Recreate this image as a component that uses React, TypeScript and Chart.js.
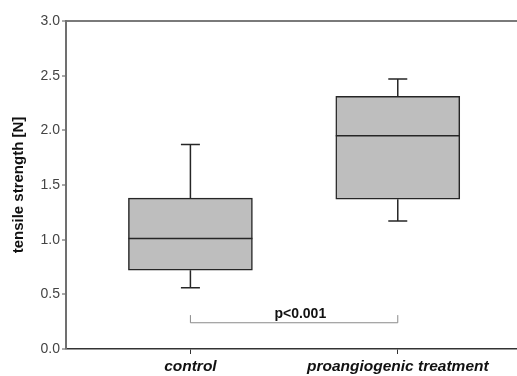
import React, { useEffect, useRef } from 'react';
import { Chart, registerables } from 'chart.js';

Chart.register(...registerables);

// ---- data ----
const categories = ['control', 'proangiogenic treatment'];
const whiskerMin = [0.56, 1.17];
const quartile1 = [0.72, 1.37];
const medians = [1.01, 1.95];
const quartile3 = [1.38, 2.31];
const whiskerMax = [1.87, 2.47];

const yMin = 0;
const yMax = 3;
const yStep = 0.5;
const yTitle = 'tensile strength [N]';

const pLabel = 'p<0.001';
const bracketFrom = 0; // category index
const bracketTo = 1;
const bracketLevel = 0.24;
const bracketTickTop = 0.31;
const pLabelX = 1.53;
const pLabelY = 0.322;

const FONT = "'Liberation Sans', Arial, Helvetica, sans-serif";

const boxPlugin = {
  id: 'boxWhiskers',
  afterDatasetsDraw(chart: any) {
    const xs = chart.scales.x;
    const ys = chart.scales.y;
    const ctx = chart.ctx;
    ctx.save();
    ctx.strokeStyle = '#262626';
    ctx.lineWidth = 1.5;
    const halfBox = 62;
    const halfCap = 9.5;
    categories.forEach((_, i) => {
      const x = xs.getPixelForValue(i + 1);
      const yMed = ys.getPixelForValue(medians[i]);
      const yQ1 = ys.getPixelForValue(quartile1[i]);
      const yQ3 = ys.getPixelForValue(quartile3[i]);
      const yLo = ys.getPixelForValue(whiskerMin[i]);
      const yHi = ys.getPixelForValue(whiskerMax[i]);
      ctx.beginPath();
      ctx.moveTo(x - halfBox, yMed);
      ctx.lineTo(x + halfBox, yMed);
      // upper whisker
      ctx.moveTo(x, yQ3);
      ctx.lineTo(x, yHi);
      ctx.moveTo(x - halfCap, yHi);
      ctx.lineTo(x + halfCap, yHi);
      // lower whisker
      ctx.moveTo(x, yQ1);
      ctx.lineTo(x, yLo);
      ctx.moveTo(x - halfCap, yLo);
      ctx.lineTo(x + halfCap, yLo);
      ctx.stroke();
    });

    // significance bracket
    const xa = xs.getPixelForValue(bracketFrom + 1);
    const xb = xs.getPixelForValue(bracketTo + 1);
    const yb = ys.getPixelForValue(bracketLevel);
    const yt = ys.getPixelForValue(bracketTickTop);
    ctx.strokeStyle = '#8a8a8a';
    ctx.lineWidth = 1;
    ctx.beginPath();
    ctx.moveTo(xa, yt);
    ctx.lineTo(xa, yb);
    ctx.lineTo(xb, yb);
    ctx.lineTo(xb, yt);
    ctx.stroke();

    ctx.fillStyle = '#111';
    ctx.font = `bold 14px ${FONT}`;
    ctx.textAlign = 'center';
    ctx.textBaseline = 'middle';
    ctx.fillText(pLabel, xs.getPixelForValue(pLabelX), ys.getPixelForValue(pLabelY));
    ctx.restore();
  },
};

export default function App() {
  const ref = useRef<HTMLCanvasElement>(null);

  useEffect(() => {
    if (!ref.current) return;
    const chart = new Chart(ref.current, {
      type: 'bar',
      data: {
        datasets: [
          {
            data: categories.map((_, i) => ({ x: i + 1, y: [quartile1[i], quartile3[i]] })) as any,
            backgroundColor: '#bebebe',
            borderColor: '#262626',
            borderWidth: 1.5,
            borderSkipped: false,
            barThickness: 124,
          },
        ],
      },
      options: {
        responsive: false,
        animation: false,
        layout: { padding: { top: 21, right: 0, left: 0, bottom: 0 } },
        plugins: {
          legend: { display: false },
          tooltip: { enabled: false },
        },
        scales: {
          x: {
            type: 'linear',
            offset: false,
            min: 0.4,
            max: 2.575,
            afterBuildTicks: (scale: any) => {
              scale.ticks = categories.map((_, i) => ({ value: i + 1 }));
            },
            afterFit: (scale: any) => {
              scale.height = 27;
            },
            ticks: {
              autoSkip: false,
              maxRotation: 0,
              padding: 3,
              color: '#111',
              font: { family: FONT, size: 15.5, weight: 'bold', style: 'italic' },
              callback: (v: any) => categories[Math.round(Number(v)) - 1] ?? '',
            },
            grid: {
              offset: false,
              drawOnChartArea: false,
              drawTicks: true,
              tickLength: 5,
              tickColor: '#333',
              tickWidth: 1,
            },
            border: { display: true, color: '#333', width: 1.5 },
          },
          y: {
            type: 'linear',
            min: yMin,
            max: yMax,
            afterFit: (scale: any) => {
              scale.width = 66;
            },
            ticks: {
              stepSize: yStep,
              padding: 2,
              color: '#444',
              font: { family: FONT, size: 14 },
              callback: (v: any) => Number(v).toFixed(1),
            },
            grid: {
              drawOnChartArea: true,
              color: (c: any) => (c.tick && c.tick.value === yMax ? '#7a7a7a' : 'rgba(0,0,0,0)'),
              lineWidth: (c: any) => (c.tick && c.tick.value === yMax ? 2 : 0),
              drawTicks: true,
              tickLength: 4,
              tickColor: '#555',
              tickWidth: 1,
            },
            border: { display: true, color: '#707070', width: 2 },
            title: {
              display: true,
              text: yTitle,
              color: '#111',
              font: { family: FONT, size: 15, weight: 'bold' },
              padding: { top: 10, bottom: 0 },
            },
          },
        },
      },
      plugins: [boxPlugin],
    });
    return () => chart.destroy();
  }, []);

  return (
    <div style={{ position: 'absolute', left: 0, top: 0, width: 517, height: 376, background: '#fff' }}>
      <canvas ref={ref} width={517} height={376} />
    </div>
  );
}
